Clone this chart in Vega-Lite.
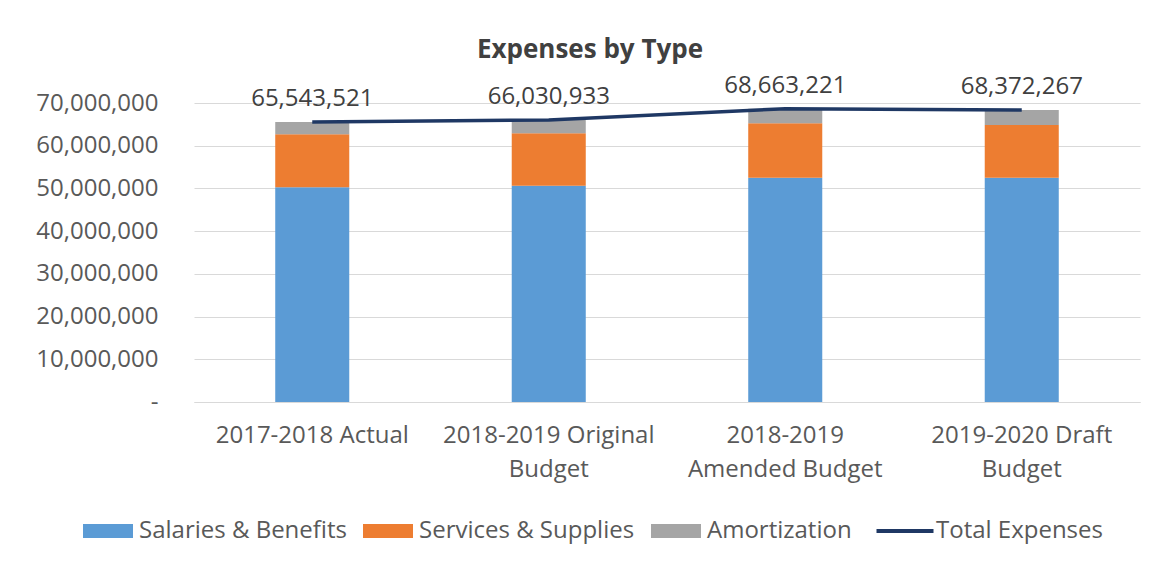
{
  "$schema": "https://vega.github.io/schema/vega-lite/v6.json",
  "width": 946,
  "height": 299,
  "autosize": {"type": "none"},
  "padding": {"left": 194, "top": 103, "right": 17, "bottom": 165},
  "background": "white",
  "title": {"text": "Expenses by Type", "font": "Open Sans", "fontSize": 26, "fontWeight": "bold", "color": "#404040", "anchor": "middle", "frame": "group", "dx": -77, "dy": 54, "offset": 44, "baseline": "alphabetic"},
  "datasets": {
    "bars": [
      {"category": "2017-2018 Actual", "series": "Salaries & Benefits", "value": 50300000},
      {"category": "2017-2018 Actual", "series": "Services & Supplies", "value": 12400000},
      {"category": "2017-2018 Actual", "series": "Amortization", "value": 2843521},
      {"category": "2018-2019 Original Budget", "series": "Salaries & Benefits", "value": 50600000},
      {"category": "2018-2019 Original Budget", "series": "Services & Supplies", "value": 12300000},
      {"category": "2018-2019 Original Budget", "series": "Amortization", "value": 3130933},
      {"category": "2018-2019 Amended Budget", "series": "Salaries & Benefits", "value": 52500000},
      {"category": "2018-2019 Amended Budget", "series": "Services & Supplies", "value": 12750000},
      {"category": "2018-2019 Amended Budget", "series": "Amortization", "value": 3413221},
      {"category": "2019-2020 Draft Budget", "series": "Salaries & Benefits", "value": 52500000},
      {"category": "2019-2020 Draft Budget", "series": "Services & Supplies", "value": 12350000},
      {"category": "2019-2020 Draft Budget", "series": "Amortization", "value": 3522267}
    ],
    "totals": [
      {"category": "2017-2018 Actual", "series": "Total Expenses", "total": 65543521},
      {"category": "2018-2019 Original Budget", "series": "Total Expenses", "total": 66030933},
      {"category": "2018-2019 Amended Budget", "series": "Total Expenses", "total": 68663221},
      {"category": "2019-2020 Draft Budget", "series": "Total Expenses", "total": 68372267}
    ]
  },
  "layer": [
    {
      "data": {"name": "bars"},
      "transform": [
        {"calculate": "indexof(['Salaries & Benefits', 'Services & Supplies', 'Amortization'], datum.series)", "as": "stackOrder"}
      ],
      "mark": {"type": "bar"},
      "encoding": {
        "x": {
          "field": "category", "type": "nominal",
          "sort": ["2017-2018 Actual", "2018-2019 Original Budget", "2018-2019 Amended Budget", "2019-2020 Draft Budget"],
          "scale": {"paddingInner": 0.687, "paddingOuter": 0.3435},
          "axis": {
            "title": null, "labelAngle": 0, "ticks": false, "domainColor": "#D9D9D9", "domainWidth": 1,
            "labelFontSize": 24, "labelColor": "#595959", "labelPadding": 21, "labelLineHeight": 34, "labelLimit": 0,
            "labelExpr": "datum.label === '2018-2019 Original Budget' ? ['2018-2019 Original','Budget'] : datum.label === '2018-2019 Amended Budget' ? ['2018-2019','Amended Budget'] : datum.label === '2019-2020 Draft Budget' ? ['2019-2020 Draft','Budget'] : datum.label"
          }
        },
        "y": {
          "field": "value", "type": "quantitative", "stack": "zero",
          "scale": {"domain": [0, 70000000], "nice": false},
          "axis": {
            "title": null, "domain": false, "ticks": false, "grid": true, "gridColor": "#D9D9D9",
            "values": [0, 10000000, 20000000, 30000000, 40000000, 50000000, 60000000, 70000000],
            "labelFontSize": 24, "labelColor": "#595959", "labelPadding": 36,
            "labelExpr": "datum.value === 0 ? '-' : format(datum.value, ',')",
            "encode": {"labels": {"update": {"dx": {"signal": "datum.value === 0 ? -11 : 0"}}}}
          }
        },
        "order": {"field": "stackOrder", "type": "quantitative", "sort": "ascending"},
        "color": {
          "field": "series", "type": "nominal",
          "scale": {
            "domain": ["Salaries & Benefits", "Services & Supplies", "Amortization", "Total Expenses"],
            "range": ["#5B9BD5", "#ED7D31", "#A5A5A5", "#1F3864"]
          },
          "legend": {
            "title": null, "orient": "none", "legendX": -98, "legendY": 416, "direction": "horizontal",
            "labelFontSize": 24, "labelColor": "#595959", "columnPadding": 16, "labelOffset": 19, "labelLimit": 0,
            "symbolSize": 2500, "symbolType": "M-1,-0.28L1,-0.28L1,0.28L-1,0.28Z",
            "encode": {
              "symbols": {
                "update": {
                  "shape": {"signal": "datum.value === 'Total Expenses' ? 'M-1.14,0L1.14,0' : 'M-1,-0.28L1,-0.28L1,0.28L-1,0.28Z'"},
                  "fill": {"signal": "datum.value === 'Total Expenses' ? 'transparent' : scale('color', datum.value)"},
                  "stroke": {"signal": "scale('color', datum.value)"},
                  "strokeWidth": {"signal": "datum.value === 'Total Expenses' ? 4 : 0"},
                  "opacity": {"value": 1}
                }
              }
            }
          }
        }
      }
    },
    {
      "data": {"name": "totals"},
      "mark": {"type": "line", "strokeWidth": 3.5},
      "encoding": {
        "x": {"field": "category", "type": "nominal", "sort": ["2017-2018 Actual", "2018-2019 Original Budget", "2018-2019 Amended Budget", "2019-2020 Draft Budget"]},
        "y": {"field": "total", "type": "quantitative"},
        "color": {"field": "series", "type": "nominal"}
      }
    },
    {
      "data": {"name": "totals"},
      "mark": {"type": "text", "fontSize": 24, "color": "#404040", "dy": -23, "baseline": "middle"},
      "encoding": {
        "x": {"field": "category", "type": "nominal", "sort": ["2017-2018 Actual", "2018-2019 Original Budget", "2018-2019 Amended Budget", "2019-2020 Draft Budget"]},
        "y": {"field": "total", "type": "quantitative"},
        "text": {"field": "total", "type": "quantitative", "format": ","}
      }
    }
  ],
  "config": {
    "font": "Open Sans",
    "view": {"stroke": null},
    "axis": {"labelFont": "Open Sans"},
    "legend": {"labelFont": "Open Sans"}
  }
}
